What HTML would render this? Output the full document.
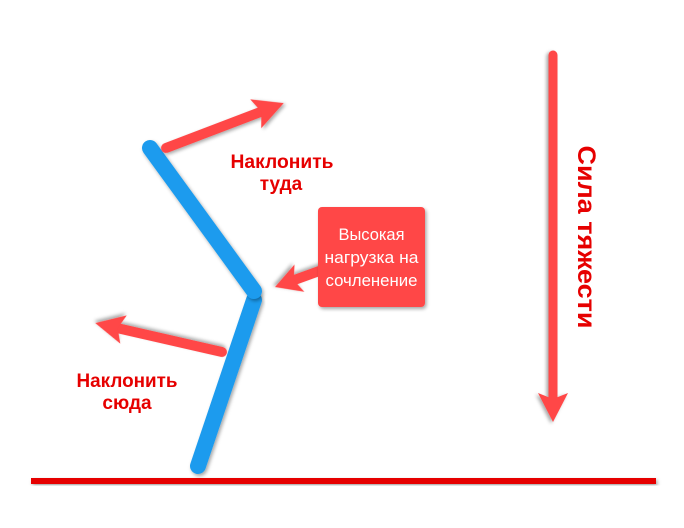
<!DOCTYPE html>
<html><head><meta charset="utf-8"><style>
html,body{margin:0;padding:0;background:#fff;}
svg{display:block;}
</style></head><body>
<svg width="684" height="528" viewBox="0 0 684 528" xmlns="http://www.w3.org/2000/svg">
<defs>
<filter id="sh" x="-20%" y="-20%" width="140%" height="140%">
<feDropShadow dx="1.5" dy="2" stdDeviation="1.8" flood-color="#000" flood-opacity="0.35"/>
</filter>
</defs>
<rect width="684" height="528" fill="#fff"/>

<!-- ground -->
<rect x="31" y="478" width="625" height="6" fill="#e60606" filter="url(#sh)"/>

<!-- blue limbs -->
<line x1="254" y1="300" x2="198" y2="466" stroke="#1b9bee" stroke-width="16" stroke-linecap="round" filter="url(#sh)"/>
<line x1="150" y1="148" x2="254" y2="291" stroke="#1b9bee" stroke-width="16" stroke-linecap="round" filter="url(#sh)"/>

<!-- upper arrow -->
<g transform="translate(166,148) rotate(-20.87)" filter="url(#sh)">
<line x1="0" y1="0" x2="102" y2="0" stroke="#ff4646" stroke-width="10" stroke-linecap="round"/>
<polygon points="126,0 96,-15.5 102,0 96,15.5" fill="#ff4646"/>
</g>

<!-- lower left arrow -->
<g transform="translate(222,352) rotate(-167.14)" filter="url(#sh)">
<line x1="0" y1="0" x2="106" y2="0" stroke="#ff4646" stroke-width="10" stroke-linecap="round"/>
<polygon points="130,0 101,-14.5 107,0 101,14.5" fill="#ff4646"/>
</g>

<!-- box arrow -->
<g transform="translate(322,270) rotate(160.1)" filter="url(#sh)">
<line x1="0" y1="0" x2="30" y2="0" stroke="#ff4646" stroke-width="10" stroke-linecap="round"/>
<polygon points="50,0 24,-14.5 30,0 24,14.5" fill="#ff4646"/>
</g>

<!-- box -->
<rect x="318" y="207" width="107" height="100" rx="4" ry="4" fill="#ff4646" filter="url(#sh)"/>
<g font-family="Liberation Sans, sans-serif" font-size="17" fill="#fff" text-anchor="middle">
<text x="371.5" y="240" textLength="66" lengthAdjust="spacingAndGlyphs">Высокая</text>
<text x="371.5" y="263" textLength="94" lengthAdjust="spacingAndGlyphs">нагрузка на</text>
<text x="371.5" y="286" textLength="92" lengthAdjust="spacingAndGlyphs">сочленение</text>
</g>

<!-- gravity arrow -->
<g transform="translate(553,55) rotate(90)" filter="url(#sh)">
<line x1="0" y1="0" x2="343" y2="0" stroke="#ff4646" stroke-width="9" stroke-linecap="round"/>
<polygon points="367,0 338,-15 344,0 338,15" fill="#ff4646"/>
</g>

<!-- labels -->
<g font-family="Liberation Sans, sans-serif" font-weight="bold" font-size="19" fill="#e60000" text-anchor="middle">
<text x="282" y="168" textLength="103" lengthAdjust="spacingAndGlyphs">Наклонить</text>
<text x="281" y="190">туда</text>
<text x="127" y="387" textLength="101" lengthAdjust="spacingAndGlyphs">Наклонить</text>
<text x="127" y="409">сюда</text>
</g>
<text transform="translate(578,237) rotate(90)" font-family="Liberation Sans, sans-serif" font-weight="bold" font-size="25" fill="#e60000" text-anchor="middle" textLength="183" lengthAdjust="spacingAndGlyphs">Сила тяжести</text>
</svg>
</body></html>
